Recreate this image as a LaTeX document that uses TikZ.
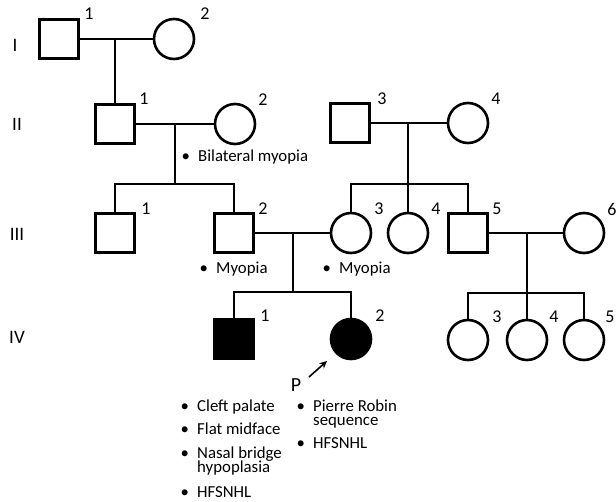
\documentclass[tikz,border=0pt]{standalone}
\usepackage{fontspec}
\setmainfont{Carlito}
\usetikzlibrary{arrows.meta}
\newcommand\bul{\llap{\makebox[25pt]{•}}}
\newcommand\twolines[2]{\vtop{\baselineskip=14.5pt\lineskiplimit=-20pt\hbox{#1}\hbox{#2}}}
\begin{document}
\begin{tikzpicture}[x=1pt,y=-1pt,
  lw/.style={line width=2.6pt},
  male/.style={draw, lw, rectangle, minimum size=38.5pt, inner sep=0pt},
  female/.style={draw, lw, circle, minimum size=40pt, inner sep=0pt},
  affected/.style={fill=black},
  rel/.style={lw},
  num/.style={font=\fontsize{18}{18}\selectfont, inner sep=0pt},
  gen/.style={font=\fontsize{19}{19}\selectfont, inner sep=0pt},
  note/.style={font=\fontsize{16.8}{14}\selectfont, inner sep=0pt, anchor=base west},
]
\useasboundingbox (0,0) rectangle (616,501);
% individuals
\node[male] (I1) at (59,39) {};
\node[female] (I2) at (174,39) {};
\node[male] (II1) at (115,124) {};
\node[female] (II2) at (235,124) {};
\node[male] (II3) at (350,123) {};
\node[female] (II4) at (468,123) {};
\node[male] (III1) at (115,233) {};
\node[male] (III2) at (234,233) {};
\node[female] (III3) at (351,233) {};
\node[female] (III4) at (408,233) {};
\node[male] (III5) at (468,233) {};
\node[female] (III6) at (584,233) {};
\node[male, affected] (IV1) at (234,339) {};
\node[female, affected] (IV2) at (351,339) {};
\node[female] (IV3) at (468,340) {};
\node[female] (IV4) at (527,340) {};
\node[female] (IV5) at (584,340) {};
% junctions
\coordinate (m1) at (115,39);
\coordinate (m2) at (175,124);
\coordinate (s2) at (175,184);
\coordinate (m3) at (408,123);
\coordinate (s3) at (408,184);
\coordinate (m4) at (293,233);
\coordinate (s4) at (293,292);
\coordinate (m5) at (527,233);
\coordinate (s5) at (527,293);
% connectors
\draw[rel] (I1) -- (I2);
\draw[rel] (m1) -- (II1.north);
\draw[rel] (II1) -- (II2);
\draw[rel] (m2) -- (s2);
\draw[rel] (III1.north) -- (III1.north |- s2) -- (III2.north |- s2) -- (III2.north);
\draw[rel] (II3) -- (II4);
\draw[rel] (m3) -- (s3);
\draw[rel] (III3.north) -- (III3.north |- s3) -- (III5.north |- s3) -- (III5.north);
\draw[rel] (s3) -- (III4.north);
\draw[rel] (III2) -- (III3);
\draw[rel] (m4) -- (s4);
\draw[rel] (IV1.north) -- (IV1.north |- s4) -- (IV2.north |- s4) -- (IV2.north);
\draw[rel] (III5) -- (III6);
\draw[rel] (m5) -- (s5);
\draw[rel] (IV3.north) -- (IV3.north |- s5) -- (IV5.north |- s5) -- (IV5.north);
\draw[rel] (s5) -- (IV4.north);
% numbers
\node[num] (nI1) at (89,14) {1};
\node[num] (nI2) at (205,14) {2};
\node[num] (nII1) at (144,99) {1};
\node[num] (nII2) at (263,100) {2};
\node[num] (nII3) at (382,99) {3};
\node[num] (nII4) at (496,99) {4};
\node[num] (nIII1) at (146,209) {1};
\node[num] (nIII2) at (263,209) {2};
\node[num] (nIII3) at (379,209) {3};
\node[num] (nIII4) at (436,209) {4};
\node[num] (nIII5) at (497,209) {5};
\node[num] (nIII6) at (612,209) {6};
\node[num] (nIV1) at (265,316) {1};
\node[num] (nIV2) at (380,316) {2};
\node[num] (nIV3) at (497,317) {3};
\node[num] (nIV4) at (554,317) {4};
\node[num] (nIV5) at (610,317) {5};
% generations
\node[gen] (gI) at (15,45) {I};
\node[gen] (gII) at (17,124) {II};
\node[gen] (gIII) at (17,234) {III};
\node[gen] (gIV) at (17,337) {IV};
% notes
\node[note] (t1) at (198,161) {\bul Bilateral myopia};
\node[note] (t2) at (216,273) {\bul Myopia};
\node[note] (t3) at (339,273) {\bul Myopia};
\node[note] (t4) at (197,411) {\bul Cleft palate};
\node[note] (t5) at (197,434) {\bul Flat midface};
\node[note] (t6) at (197,458) {\bul\twolines{Nasal bridge}{hypoplasia}};
\node[note] (t7) at (197,497) {\bul HFSNHL};
\node[note] (t8) at (313,411) {\bul\twolines{Pierre Robin}{sequence}};
\node[note] (t9) at (313,448) {\bul HFSNHL};
% proband
\node[font=\fontsize{20}{20}\selectfont, inner sep=0pt] (P) at (296,385) {P};
\coordinate (pa) at (309,377);
\coordinate (pb) at (327,361);
\draw[line width=1.6pt, -{Stealth[length=7.5pt,width=7pt]}] (pa) -- (pb);
\end{tikzpicture}
\end{document}
